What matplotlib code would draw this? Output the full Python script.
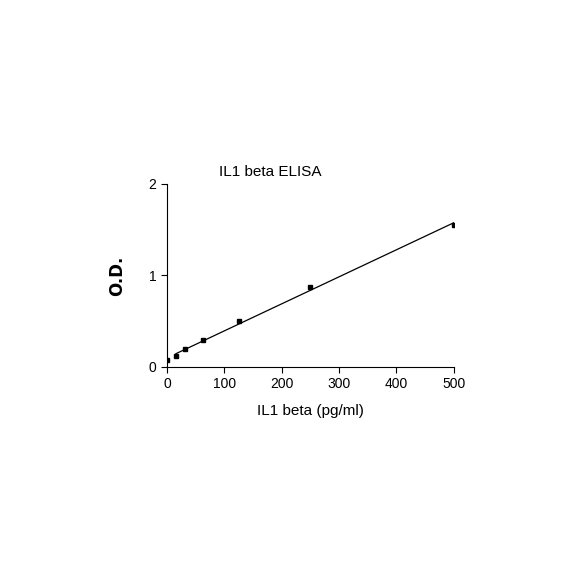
import matplotlib
matplotlib.use("Agg")
import matplotlib.pyplot as plt
import numpy as np

plt.rcParams['font.family'] = ['Liberation Sans', 'DejaVu Sans']

# IL1 beta standard curve
conc = [0, 15.6, 31.25, 62.5, 125, 250, 500]
od = [0.07, 0.12, 0.19, 0.29, 0.50, 0.87, 1.55]

# linear fit to the standards
slope, intercept = np.polyfit(conc, od, 1)
fit_x = np.linspace(15.6, 500, 50)
fit_y = slope * fit_x + intercept

fig = plt.figure(figsize=(5.84, 5.84), dpi=100)
ax = fig.add_axes([0.286, 0.372, 0.491, 0.313])

ax.plot(fit_x, fit_y, color='black', linewidth=0.9)
ax.plot(conc, od, 's', color='black', markersize=3)

ax.set_xlim(0, 500)
ax.set_ylim(0, 2)
ax.set_xticks([0, 100, 200, 300, 400, 500])
ax.set_yticks([0, 1, 2])
ax.spines['top'].set_visible(False)
ax.spines['right'].set_visible(False)
ax.tick_params(direction='out', length=4, labelsize=10)

fig.text(270 / 584, 1 - 172 / 584, 'IL1 beta ELISA', ha='center', va='center', fontsize=11)
ax.set_xlabel('IL1 beta (pg/ml)', fontsize=11, labelpad=9)
ax.set_ylabel('O.D.', fontsize=12, fontweight='bold', family='DejaVu Sans', labelpad=16)

fig.savefig('out.png', dpi=100)
